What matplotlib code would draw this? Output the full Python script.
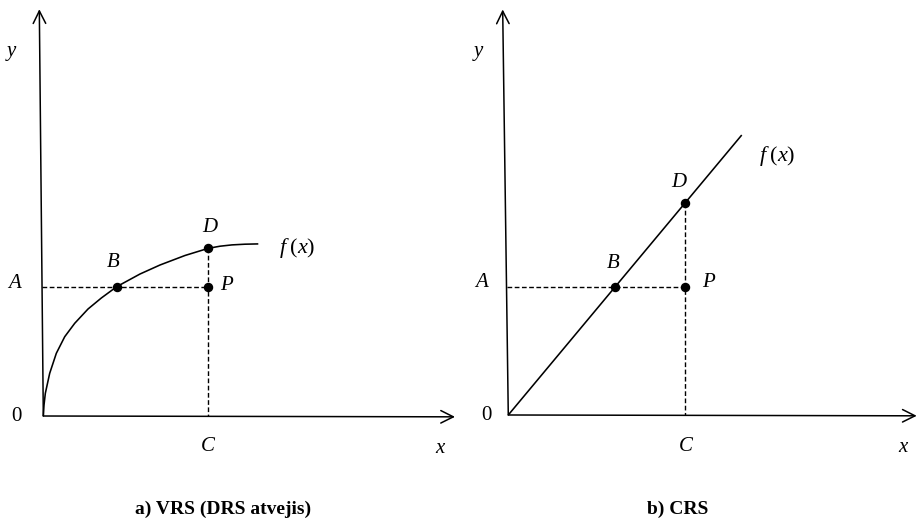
import matplotlib
matplotlib.use("Agg")
import matplotlib.pyplot as plt

plt.rcParams['mathtext.fontset'] = 'custom'
plt.rcParams['mathtext.rm'] = 'Liberation Serif'
plt.rcParams['mathtext.it'] = 'Liberation Serif:italic'

# ---- data (model units) ----
# panel a) VRS: concave production function
vrs_x = [0.0, 0.017, 0.049, 0.155, 0.316, 0.520, 0.763, 1.086, 1.409, 1.783,
         2.349, 2.835, 3.442, 4.008, 4.292, 4.583, 4.899, 5.222]
vrs_y = [0.0, 0.267, 0.551, 1.037, 1.523, 1.926, 2.252, 2.599, 2.866, 3.141,
         3.449, 3.668, 3.899, 4.073, 4.124, 4.156, 4.173, 4.180]
vrs_B = (1.78, 3.14)
vrs_D = (4.01, 4.07)
vrs_P = (4.01, 3.14)
vrs_xaxis_end = (10.0, -0.02)
vrs_yaxis_top = (-0.097, 9.88)

# panel b) CRS: straight line through origin
crs_x = [0.0, 5.67]
crs_y = [0.0, 6.80]
crs_B = (2.60, 3.12)
crs_D = (4.30, 5.16)
crs_P = (4.30, 3.12)
crs_xaxis_end = (9.92, -0.02)
crs_yaxis_top = (-0.136, 9.85)

point_labels = ['B', 'D', 'P']
captions = ['a) VRS (DRS atvejis)', 'b) CRS']

W, H = 918, 521
fig = plt.figure(figsize=(W / 100, H / 100), dpi=100)
fig.patch.set_facecolor('white')

ax1 = fig.add_axes([0, 0, 459 / W, 1])
ax2 = fig.add_axes([459 / W, 0, 459 / W, 1])
ax1.set_xlim(-1.052, 10.097)
ax1.set_ylim(-2.550, 10.104)
ax2.set_xlim(-1.197, 9.951)
ax2.set_ylim(-2.575, 10.080)
for ax in (ax1, ax2):
    ax.set_axis_off()

FS = 15
lab = dict(family='Liberation Serif', style='italic', fontsize=FS,
           ha='center', va='center', color='black')
up = dict(family='Liberation Serif', fontsize=FS, ha='center', va='center',
          color='black')
arrow_kw = dict(arrowstyle='->,head_length=0.9,head_width=0.45', lw=1.1,
                color='black', shrinkA=0, shrinkB=0, mutation_scale=10)
dash_kw = dict(color='black', lw=1.0, dashes=(3.4, 1.8))


def draw_panel(ax, fx, fy, B, D, P, xend, ytop, lpos):
    ax.annotate('', xy=xend, xytext=(0, 0), arrowprops=arrow_kw)
    ax.annotate('', xy=ytop, xytext=(0, 0), arrowprops=arrow_kw)
    ax.plot(fx, fy, color='black', lw=1.15, solid_capstyle='butt',
            solid_joinstyle='round')
    # dashed guides
    ax.plot([ytop[0] * B[1] / ytop[1], P[0]], [B[1], P[1]], **dash_kw)
    ax.plot([D[0], D[0]], [D[1], 0], **dash_kw)
    xs = [B[0], D[0], P[0]]
    ys = [B[1], D[1], P[1]]
    ax.plot(xs, ys, 'o', color='black', ms=5.8, ls='none')
    for key, (tx, ty) in lpos.items():
        if key == '0':
            ax.text(tx, ty, '0', **up)
        elif key == 'f':
            ax.text(tx, ty, r'$f\;(x)$', fontsize=16, ha='center', va='center')
        else:
            ax.text(tx, ty, key, **lab)


draw_panel(ax1, vrs_x, vrs_y, vrs_B, vrs_D, vrs_P, vrs_xaxis_end, vrs_yaxis_top,
           {'y': (-0.77, 8.85), 'A': (-0.69, 3.22), '0': (-0.66, 0.0),
            'B': (1.69, 3.72), 'D': (4.05, 4.57), 'P': (4.46, 3.18),
            'f': (6.16, 4.08), 'C': (3.99, -0.75), 'x': (9.64, -0.78)})
draw_panel(ax2, crs_x, crs_y, crs_B, crs_D, crs_P, crs_xaxis_end, crs_yaxis_top,
           {'y': (-0.73, 8.82), 'A': (-0.65, 3.21), '0': (-0.53, -0.02),
            'B': (2.55, 3.69), 'D': (4.13, 5.64), 'P': (4.86, 3.21),
            'f': (6.54, 6.30), 'C': (4.32, -0.77), 'x': (9.59, -0.80)})

fig.text(223 / W, 1 - 509 / H, captions[0], family='Liberation Serif',
         weight='bold', fontsize=14, ha='center', va='center')
fig.text(678 / W, 1 - 509 / H, captions[1], family='Liberation Serif',
         weight='bold', fontsize=14, ha='center', va='center')

fig.savefig('out.png', dpi=100, facecolor='white')
